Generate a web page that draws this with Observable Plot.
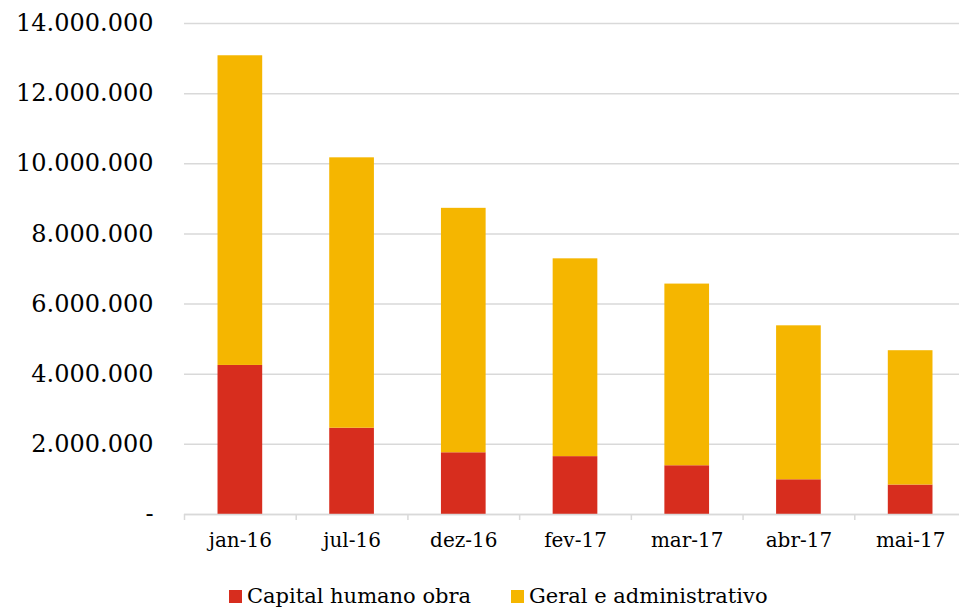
<!DOCTYPE html>
<html>
<head>
<meta charset="utf-8">
<script src="https://cdn.jsdelivr.net/npm/d3@7"></script>
<script src="https://cdn.jsdelivr.net/npm/@observablehq/plot@0.6"></script>
<style>
  html, body { margin: 0; padding: 0; background: #fff; }
  #legend { position: relative; height: 36px; font-family: "DejaVu Serif", serif; font-size: 21px; color: #000; }
  .item { position: absolute; top: 0; display: flex; align-items: center; height: 36px; }
  .sw { width: 13px; height: 13px; margin-right: 5px; }
</style>
</head>
<body>
<div id="chart"></div>
<div id="legend"></div>
<script>
const categories = ["jan-16", "jul-16", "dez-16", "fev-17", "mar-17", "abr-17", "mai-17"];
const capitalHumano = [4250000, 2460000, 1760000, 1650000, 1390000, 990000, 840000];
const geralAdministrativo = [8830000, 7710000, 6970000, 5640000, 5180000, 4390000, 3830000];
const seriesNames = ["Capital humano obra", "Geral e administrativo"];
const seriesColors = ["#d72d1e", "#f5b600"];
const yTicks = [0, 2000000, 4000000, 6000000, 8000000, 10000000, 12000000, 14000000];

const data = [];
categories.forEach((c, i) => {
  data.push({cat: c, serie: seriesNames[0], value: capitalHumano[i]});
  data.push({cat: c, serie: seriesNames[1], value: geralAdministrativo[i]});
});

const locale = d3.formatLocale({decimal: ",", thousands: ".", grouping: [3], currency: ["", ""]});
const fmtNum = locale.format(",");
const fmt = d => d === 0 ? "-" : fmtNum(d);

const chart = Plot.plot({
  width: 959,
  height: 572,
  marginLeft: 184,
  marginRight: 0,
  marginTop: 23,
  marginBottom: 58,
  style: {fontFamily: "DejaVu Serif, serif", fontSize: "20px", color: "#000", background: "#fff"},
  x: {domain: categories, range: [184, 966], paddingInner: 0.6, paddingOuter: 0.3, round: false, label: null},
  y: {domain: [0, 14000000], label: null},
  color: {domain: seriesNames, range: seriesColors},
  marks: [
    Plot.gridY(yTicks, {stroke: "#d9d9d9", strokeOpacity: 1, strokeWidth: 1.5}),
    Plot.barY(data, {x: "cat", y: "value", fill: "serie", order: seriesNames}),
    Plot.ruleY([0], {stroke: "#d9d9d9", strokeWidth: 1.5}),
    Plot.axisY(yTicks, {tickSize: 0, tickPadding: 31, tickFormat: fmt, fontSize: 24, label: null}),
    Plot.axisX({tickSize: 0, tickPadding: 18, fontSize: 20, label: null}),
    Plot.axisX({tickSize: 6, tickFormat: () => "", dx: -55.86, stroke: "#d9d9d9", strokeWidth: 1.5, label: null})
  ]
});
document.getElementById("chart").appendChild(chart);

const legend = document.getElementById("legend");
const lefts = [229, 511];
seriesNames.forEach((name, i) => {
  const item = document.createElement("div");
  item.className = "item";
  item.style.left = lefts[i] + "px";
  item.style.top = "6px";
  const sw = document.createElement("span");
  sw.className = "sw";
  sw.style.background = seriesColors[i];
  const t = document.createElement("span");
  t.textContent = name;
  item.appendChild(sw);
  item.appendChild(t);
  legend.appendChild(item);
});
</script>
</body>
</html>
